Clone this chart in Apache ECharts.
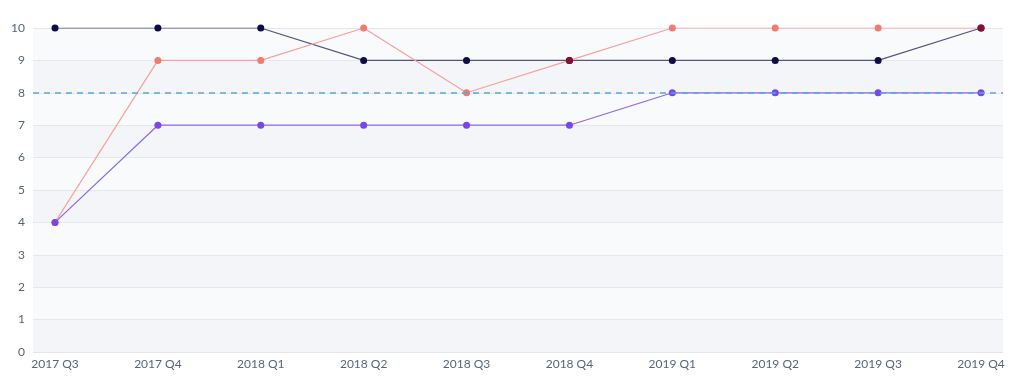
<!DOCTYPE html>
<html>
<head>
<meta charset="utf-8">
<script src="https://cdn.jsdelivr.net/npm/echarts@6/dist/echarts.min.js"></script>
<style>
  html, body { margin: 0; padding: 0; background: #fff; }
  #chart { width: 1024px; height: 385px; }
</style>
</head>
<body>
<div id="chart"></div>
<script>
  // quarters on the x axis
  var quarters = ['2017 Q3', '2017 Q4', '2018 Q1', '2018 Q2', '2018 Q3', '2018 Q4', '2019 Q1', '2019 Q2', '2019 Q3', '2019 Q4'];
  var navyValues = [10, 10, 10, 9, 9, 9, 9, 9, 9, 10];
  var salmonValues = [4, 9, 9, 10, 8, 9, 10, 10, 10, 10];
  var purpleValues = [4, 7, 7, 7, 7, 7, 8, 8, 8, 8];
  var targetValue = 8;

  var labelFont = {color: '#56657a', fontSize: 12, fontFamily: 'Lato'};

  // salmon points that sit on a navy point get the darker overlap colour
  var salmonData = salmonValues.map(function (v, i) {
    if (v === navyValues[i]) {
      return {value: v, itemStyle: {color: '#8a0f2e'}};
    }
    return v;
  });

  var chart = echarts.init(document.getElementById('chart'));
  chart.setOption({
    animation: false,
    grid: [
      {left: 33, right: 21, top: 28, bottom: 33},
      {left: 55, right: 43, top: 28, bottom: 33}
    ],
    xAxis: [
      {gridIndex: 0, type: 'value', min: 0, max: 1, show: false},
      {
        gridIndex: 1, type: 'category', data: quarters, boundaryGap: false,
        axisLine: {show: false}, axisTick: {show: false},
        axisLabel: Object.assign({margin: 6, interval: 0}, labelFont)
      }
    ],
    yAxis: [
      {
        gridIndex: 0, type: 'value', min: 0, max: 10, interval: 1,
        axisLabel: {show: false}, axisLine: {show: false}, axisTick: {show: false},
        splitLine: {lineStyle: {color: '#e4e7ec', width: 1}},
        splitArea: {show: true, areaStyle: {color: ['#f3f5f8', '#f9fafc']}}
      },
      {
        gridIndex: 1, type: 'value', min: 0, max: 10, interval: 1,
        axisLabel: Object.assign({margin: 30}, labelFont),
        axisLine: {show: false}, axisTick: {show: false},
        splitLine: {show: false}
      }
    ],
    series: [
      {
        type: 'line', xAxisIndex: 0, yAxisIndex: 0, data: [],
        markLine: {
          silent: true, symbol: 'none', label: {show: false},
          lineStyle: {color: '#5ba8d6', type: [6, 5], width: 1.5},
          data: [{yAxis: targetValue}]
        }
      },
      {
        name: 'navy', type: 'line', xAxisIndex: 1, yAxisIndex: 1, data: navyValues,
        symbol: 'circle', symbolSize: 7,
        lineStyle: {color: '#55547a', width: 1.2},
        itemStyle: {color: '#0e0b48'}
      },
      {
        name: 'salmon', type: 'line', xAxisIndex: 1, yAxisIndex: 1, data: salmonData,
        symbol: 'circle', symbolSize: 7,
        lineStyle: {color: '#f4a29c', width: 1.2},
        itemStyle: {color: '#f07b70'}
      },
      {
        name: 'purple', type: 'line', xAxisIndex: 1, yAxisIndex: 1, data: purpleValues,
        symbol: 'circle', symbolSize: 7,
        lineStyle: {color: '#8d68e6', width: 1.2},
        itemStyle: {color: '#7846ea'}
      }
    ]
  });
</script>
</body>
</html>
